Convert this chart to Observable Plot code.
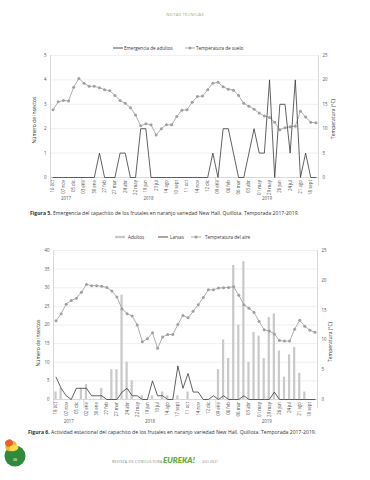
<!DOCTYPE html>
<html><head><meta charset="utf-8">
<script src="https://cdn.jsdelivr.net/npm/d3@7"></script>
<script src="https://cdn.jsdelivr.net/npm/@observablehq/plot@0.6"></script>
<style>
html,body{margin:0;padding:0;background:#fff}
body{width:370px;height:480px;position:relative;overflow:hidden;font-family:"Open Sans",sans-serif;color:#333}
.abs{position:absolute;white-space:nowrap}
.leg{font-size:4.6px;color:#333;line-height:6px}
.rot{transform:translate(-50%,-50%) rotate(-90deg);font-size:5px;color:#333}
.cap{font-size:5.1px;color:#333}
.cap b{font-weight:700}
</style></head><body>
<div class="abs" style="left:0;width:370px;top:11px;text-align:center;font-size:4.3px;color:#9ab54a;letter-spacing:0.2px">NOTAS TÉCNICAS</div>

<!-- legend fig 5 -->
<svg class="abs" style="left:112px;top:45px" width="12" height="6"><line x1="1" x2="11" y1="3" y2="3" stroke="#3a3a3a" stroke-width="0.9"/></svg>
<div class="abs leg" style="left:124px;top:45px">Emergencia de adultos</div>
<svg class="abs" style="left:184px;top:45px" width="12" height="6"><line x1="1" x2="11" y1="3" y2="3" stroke="#a6a6a6" stroke-width="0.9"/><circle cx="6" cy="3" r="1.5" fill="#a0a0a0"/></svg>
<div class="abs leg" style="left:196px;top:45px">Temperatura de suelo</div>

<div id="c1" class="abs" style="left:0;top:50px"></div>
<div class="abs rot" style="left:34px;top:120px">Número de insectos</div>
<div class="abs rot" style="left:333px;top:119px">Temperatura (°C)</div>
<div class="abs cap" style="left:30px;top:210px"><b>Figura 5.</b> Emergencia del capachito de los frutales en naranjo variedad New Hall. Quillota. Temporada 2017-2019.</div>

<!-- legend fig 6 -->
<svg class="abs" style="left:114px;top:234px" width="12" height="6"><rect x="1" y="1.8" width="10" height="2.4" fill="#c9c9c9"/></svg>
<div class="abs leg" style="left:128px;top:234px">Adultos</div>
<svg class="abs" style="left:157px;top:234px" width="12" height="6"><line x1="1" x2="11" y1="3" y2="3" stroke="#3a3a3a" stroke-width="0.9"/></svg>
<div class="abs leg" style="left:170px;top:234px">Larvas</div>
<svg class="abs" style="left:190px;top:234px" width="12" height="6"><line x1="1" x2="11" y1="3" y2="3" stroke="#a6a6a6" stroke-width="0.9"/><circle cx="6" cy="3" r="1.5" fill="#a0a0a0"/></svg>
<div class="abs leg" style="left:205px;top:234px">Temperatura del aire</div>

<div id="c2" class="abs" style="left:0;top:245px"></div>
<div class="abs rot" style="left:38px;top:343px">Número de insectos</div>
<div class="abs rot" style="left:330px;top:342px">Temperatura (°C)</div>
<div class="abs cap" style="left:28px;top:429px"><b>Figura 6.</b> Actividad estacional del capachito de los frutales en naranjo variedad New Hall. Quillota. Temporada 2017-2019.</div>

<!-- footer -->
<svg class="abs" style="left:0;top:436px" width="36" height="40">
  <circle cx="15" cy="20" r="10.5" fill="#2f8a3c"/>
  <ellipse cx="11" cy="10" rx="6" ry="5" fill="#f2b632" transform="rotate(-30 11 10)"/>
  <ellipse cx="9" cy="7" rx="4" ry="3.5" fill="#e8612a" transform="rotate(-30 9 7)"/>
  <ellipse cx="14" cy="12" rx="4.5" ry="3" fill="#f7dc4a" transform="rotate(-20 14 12)"/>
  <text x="15" y="25" font-size="3" fill="#fff" text-anchor="middle" font-family="Open Sans">GB</text>
</svg>
<div class="abs" style="left:112px;top:459px;font-size:3.8px;color:#8a8a8a;letter-spacing:0.15px">REVISTA DE CITRICULTURA</div>
<div class="abs" style="left:163px;top:455px;font-size:8px;font-weight:800;font-style:italic;color:#6aac35;font-family:Lato,sans-serif">EUREKA!</div>
<div class="abs" style="left:202px;top:459px;font-size:3.8px;color:#8a8a8a">2(2) 2021</div>

<script>
// ---------- data: Figura 5 ----------
const fig5Labels = ["16 oct","07 nov","05 dic","03 ene","30 ene","27 feb","27 mar","24 abr","22 may","19 jun","23 jul","14 ago","10 sept","11 oct","14 nov","12 dic","09 ene","06 feb","06 mar","03 abr","01 may","29 may","26 jun","24 jul","21 ago","18 sept"];
const fig5Adults = [0,0,0,0,0,0,0,0,0,1, 0,0,0,1,1,0,0,2,2,0, 0,0,0,0,0,0,0,0,0,0, 0,1,0,2,2,1,0,0,1,2, 1,1,4,0,3,3,1,4,0,1, 0,0];
const fig5SoilTemp = [13.9,15.5,15.8,15.7,18.5,20.3,19.3,18.7,18.7,18.4, 18.0,17.8,16.8,15.8,15.2,14.3,12.8,10.6,11.0,10.8, 8.7,10.0,10.8,10.8,12.5,13.8,13.9,15.4,16.6,16.7, 18.0,19.3,19.5,18.6,18.1,17.9,16.8,15.2,14.6,14.0, 13.2,12.6,12.3,11.3,9.8,10.2,10.4,10.5,13.6,12.4, 11.3,11.2];

// ---------- data: Figura 6 ----------
const fig6Labels = ["18 oct","07 nov","05 dic","02 ene","30 ene","27 feb","27 mar","24 abr","22 may","19 jun","10 jul","14 ago","17 sept","11 oct","14 nov","12 dic","09 ene","06 feb","06 mar","03 abr","01 may","29 may","26 jun","24 jul","21 ago","18 sept"];
const fig6Adults = [2,3,0,0,0,3,4,0,0,3, 0,8,8,28,10,5,0,1,0,1, 0,2,1,0,1,0,2,0,0,0, 0,0,8,16,11,36,20,37,10,18, 17,11,22,23,13,6,12,14,7,2, 0,0];
const fig6Larvae = [6,3,1,0,3,3,3,1,1,1, 0,0,0,2,3,1,1,0,0,5, 1,1,0,0,9,3,7,2,2,0, 0,1,0,1,0,0,0,1,0,0, 0,0,0,2,0,0,0,0,0,0, 0,0];
const fig6AirTemp = [13.2,14.4,16.0,16.6,17.0,18.0,19.3,19.1,19.1,19.0, 18.8,18.2,17.2,15.2,14.4,14.0,12.5,9.7,10.2,11.2, 8.6,10.5,10.9,10.9,12.6,14.1,13.7,14.8,15.9,17.1, 18.4,18.4,18.7,18.75,18.8,18.9,17.5,15.9,15.3,14.6, 13.1,11.7,11.5,11.0,9.9,9.8,9.8,11.8,13.3,12.3, 11.6,11.3];

// years and first category of each year
const yearNames = ["2017","2018","2019"];
const yearStart = [0,6,32];

const FONT = "'Open Sans', sans-serif";
const GRID = "#e6e6e6", AXIS = "#bfbfbf", TICKTXT = "#555";

function yearMids(n){
  return yearStart.map((s,k)=>(s + (k+1<yearStart.length? yearStart[k+1] : n) - 1)/2);
}
function yearAxis(n, pad){
  const mids = yearMids(n);
  return Plot.axisX({ticks:mids, tickSize:0, tickPadding:pad, tickFormat:v=>yearNames[mids.indexOf(v)], label:null, fill:TICKTXT});
}
function boundaries(n){
  return [-0.5, ...yearStart.slice(1).map(s=>s-0.5), n-0.5];
}

// ---------- chart 1 ----------
{
  const n = fig5Adults.length;
  const leftMax = 5, rightMax = 25, k = leftMax/rightMax;
  const rows = fig5Adults.map((v,i)=>({i, adults:v, temp:fig5SoilTemp[i]*k}));
  const ticksL = d3.range(0, leftMax+1, 1);
  const chart = Plot.plot({
    width:370, height:155, marginTop:5, marginBottom:28, marginLeft:50, marginRight:52,
    style:{fontFamily:FONT, fontSize:"4.4px", color:TICKTXT, background:"transparent"},
    x:{type:"linear", domain:[-0.5, n-0.5]},
    y:{domain:[0,leftMax]},
    marks:[
      Plot.ruleY(ticksL.slice(1), {stroke:GRID, strokeWidth:0.6}),
      Plot.ruleY([0], {stroke:AXIS, strokeWidth:0.6}),
      Plot.ruleX([-0.5, n-0.5], {stroke:AXIS, strokeWidth:0.6}),
      Plot.axisX({ticks:boundaries(n), tickSize:9, tickFormat:()=>"", stroke:AXIS, strokeWidth:0.6, label:null}),
      Plot.axisX({ticks:d3.range(0,n,2), tickSize:0, tickPadding:2.5, tickRotate:-90, tickFormat:i=>fig5Labels[i/2], label:null, fill:TICKTXT}),
      yearAxis(n, 19.5),
      Plot.axisY({anchor:"left", ticks:ticksL, tickSize:0, tickPadding:4, tickFormat:d=>String(d), label:null, fill:TICKTXT}),
      Plot.axisY({anchor:"right", ticks:ticksL, tickSize:0, tickPadding:4, tickFormat:d=>String(Math.round(d/k)), label:null, fill:TICKTXT}),
      Plot.line(rows, {x:"i", y:"temp", stroke:"#a6a6a6", strokeWidth:0.9}),
      Plot.dot(rows, {x:"i", y:"temp", r:1.5, fill:"#a0a0a0", stroke:"none"}),
      Plot.line(rows, {x:"i", y:"adults", stroke:"#3a3a3a", strokeWidth:0.8})
    ]
  });
  document.getElementById("c1").append(chart);
}

// ---------- chart 2 ----------
{
  const n = fig6Adults.length;
  const leftMax = 40, rightMax = 25, k = leftMax/rightMax;
  const rows = fig6Adults.map((v,i)=>({i, adults:v, larvae:fig6Larvae[i], temp:fig6AirTemp[i]*k}));
  const ticksL = d3.range(0, leftMax+1, 5);
  const ticksR = d3.range(0, rightMax+1, 5).map(t=>t*k);
  const chart = Plot.plot({
    width:370, height:182, marginTop:5, marginBottom:28, marginLeft:53, marginRight:53,
    style:{fontFamily:FONT, fontSize:"4.4px", color:TICKTXT, background:"transparent"},
    x:{type:"linear", domain:[-0.5, n-0.5]},
    y:{domain:[0,leftMax]},
    marks:[
      Plot.ruleY(ticksL.slice(1), {stroke:GRID, strokeWidth:0.6}),
      Plot.ruleX([-0.5, n-0.5], {stroke:AXIS, strokeWidth:0.6}),
      Plot.axisX({ticks:boundaries(n), tickSize:9, tickFormat:()=>"", stroke:AXIS, strokeWidth:0.6, label:null}),
      Plot.axisX({ticks:d3.range(0,n,2), tickSize:0, tickPadding:2.5, tickRotate:-90, tickFormat:i=>fig6Labels[i/2], label:null, fill:TICKTXT}),
      yearAxis(n, 20.5),
      Plot.axisY({anchor:"left", ticks:ticksL, tickSize:0, tickPadding:4, tickFormat:d=>String(d), label:null, fill:TICKTXT}),
      Plot.axisY({anchor:"right", ticks:ticksR, tickSize:0, tickPadding:4, tickFormat:d=>String(Math.round(d/k)), label:null, fill:TICKTXT}),
      Plot.rectY(rows, {x1:d=>d.i-0.22, x2:d=>d.i+0.22, y1:0, y2:"adults", fill:"#c9c9c9"}),
      Plot.ruleY([0], {stroke:AXIS, strokeWidth:0.6}),
      Plot.line(rows, {x:"i", y:"temp", stroke:"#a6a6a6", strokeWidth:0.9}),
      Plot.dot(rows, {x:"i", y:"temp", r:1.5, fill:"#a0a0a0", stroke:"none"}),
      Plot.line(rows, {x:"i", y:"larvae", stroke:"#3a3a3a", strokeWidth:0.8})
    ]
  });
  document.getElementById("c2").append(chart);
}
</script>
</body></html>
